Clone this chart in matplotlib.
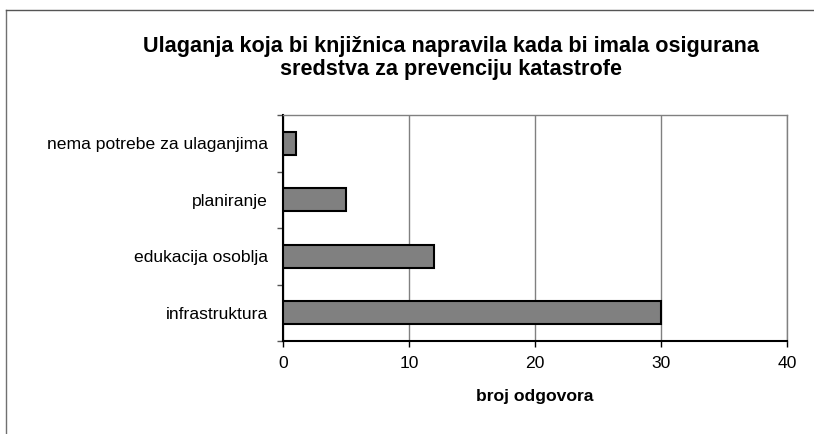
import numpy as np
import matplotlib.pyplot as plt
from matplotlib.lines import Line2D

categories = ['infrastruktura', 'edukacija osoblja', 'planiranje', 'nema potrebe za ulaganjima']
values = [30, 12, 5, 1]
xticks = [0, 10, 20, 30, 40]

plt.rcParams['font.family'] = ['Liberation Sans', 'DejaVu Sans']

W, H = 814, 434
fig = plt.figure(figsize=(W / 100, H / 100), dpi=100)

# plot area in pixels
left, right, top, bottom = 283, 787, 115, 341
ax = fig.add_axes([left / W, 1 - bottom / H, (right - left) / W, (bottom - top) / H])

pos = np.arange(len(categories))
ax.barh(pos, values, height=0.41, color='#808080', edgecolor='black', linewidth=1.5, zorder=3)

ax.set_xlim(0, 40)
ax.set_ylim(-0.5, len(categories) - 0.5)
ax.set_xticks(xticks)
ax.set_xticklabels([str(x) for x in xticks], fontsize=12.6)
ax.tick_params(axis='x', length=4, width=1, pad=7, direction='out')

# ticks at category boundaries, labels at centres
ax.set_yticks(np.arange(len(categories) + 1) - 0.5)
ax.set_yticklabels([])
ax.tick_params(axis='y', which='major', length=4, width=1, direction='out', color='#555555')
ax.set_yticks(pos, minor=True)
ax.set_yticklabels(categories, minor=True, fontsize=12.6)
ax.tick_params(axis='y', which='minor', length=0, pad=11)

ax.grid(axis='x', color='#808080', linewidth=1, zorder=0)
for s in ['left', 'bottom']:
    ax.spines[s].set_color('black')
    ax.spines[s].set_linewidth(1.5)
for s in ['top', 'right']:
    ax.spines[s].set_color('#808080')
    ax.spines[s].set_linewidth(1)

ax.set_xlabel('broj odgovora', fontsize=12.6, fontweight='bold', labelpad=13)

fig.text(451 / W, 1 - 58 / H, 'Ulaganja koja bi knjižnica napravila kada bi imala osigurana\nsredstva za prevenciju katastrofe',
         ha='center', va='center', fontsize=15.6, fontweight='bold', linespacing=1.15)

# outer frame (top and left)
fig.add_artist(Line2D([6 / W, 6 / W], [0, 1 - 10 / H], color='#707070', linewidth=1, transform=fig.transFigure))
fig.add_artist(Line2D([6 / W, 1], [1 - 10 / H, 1 - 10 / H], color='#555555', linewidth=1, transform=fig.transFigure))

fig.savefig('out.png', dpi=100)
